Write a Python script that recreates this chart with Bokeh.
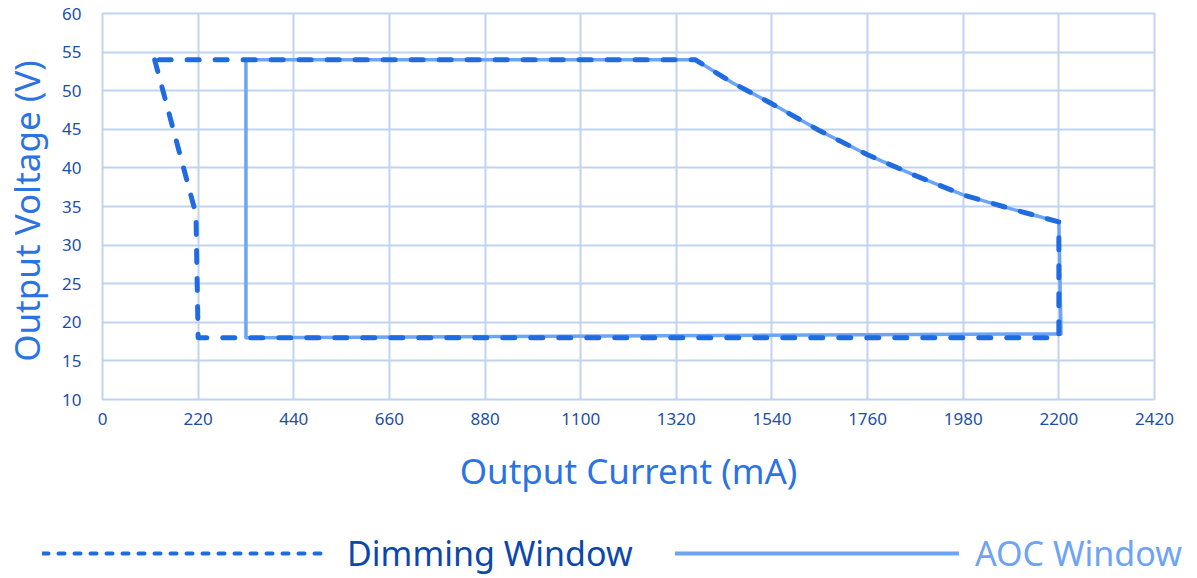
from bokeh.plotting import figure
from bokeh.models import FixedTicker, Legend, LegendItem, Range1d
from bokeh.embed import file_html
from bokeh.resources import INLINE

# ---- data ----
x_ticks = [0, 220, 440, 660, 880, 1100, 1320, 1540, 1760, 1980, 2200, 2420]
y_ticks = [10, 15, 20, 25, 30, 35, 40, 45, 50, 55, 60]

dimming_current = [120, 215, 220, 2200, 2200, 2090, 1980, 1870, 1760, 1650, 1540, 1450, 1364, 120]
dimming_voltage = [54, 34, 18, 18, 33, 34.7, 36.5, 39.0, 41.7, 44.8, 48.3, 51.0, 54, 54]

aoc_current = [330, 330, 2205, 2200, 2090, 1980, 1870, 1760, 1650, 1540, 1450, 1364, 330]
aoc_voltage = [54, 18, 18.5, 33, 34.7, 36.5, 39.0, 41.7, 44.8, 48.3, 51.0, 54, 54]

series_names = ["Dimming Window", "AOC Window"]
x_title = "Output Current (mA)"
y_title = "Output  Voltage (V)"

# ---- style ----
DIM_COLOR = "#1F6BDF"
AOC_COLOR = "#6CA4F6"
DIM_TEXT = "#0C48AC"
AOC_TEXT = "#6DA4F5"
TICK_COLOR = "#1C4FA8"
TITLE_COLOR = "#2B73E2"
GRID_COLOR = "#C0D3EF"
FONT = "Noto Sans"
W = 1195

p = figure(width=W, height=500, output_backend="svg", toolbar_location=None,
           x_range=Range1d(x_ticks[0], x_ticks[-1]), y_range=Range1d(y_ticks[0], y_ticks[-1]),
           min_border_left=102, min_border_right=41, min_border_top=13, min_border_bottom=101)
p.background_fill_color = "white"
p.border_fill_color = "white"
p.outline_line_color = GRID_COLOR
p.outline_line_width = 2

for ax, ticks in ((p.xaxis, x_ticks), (p.yaxis, y_ticks)):
    ax.ticker = FixedTicker(ticks=ticks)
    ax.axis_line_color = None
    ax.major_tick_line_color = None
    ax.minor_tick_line_color = None
    ax.major_tick_out = 0
    ax.major_tick_in = 0
    ax.major_label_text_font = FONT
    ax.major_label_text_font_size = "17px"
    ax.major_label_text_color = TICK_COLOR
    ax.axis_label_text_font = FONT
    ax.axis_label_text_font_style = "normal"
    ax.axis_label_text_color = TITLE_COLOR
    ax.axis_label_text_font_size = "35px"

p.xaxis.axis_label = x_title
p.yaxis.axis_label = y_title
p.xaxis.major_label_standoff = 13
p.xaxis.axis_label_standoff = 19
p.yaxis.major_label_standoff = 21
p.yaxis.axis_label_standoff = 9

p.xgrid.ticker = FixedTicker(ticks=x_ticks)
p.ygrid.ticker = FixedTicker(ticks=y_ticks)
p.grid.grid_line_color = GRID_COLOR
p.grid.grid_line_width = 2

# solid AOC window first, dashed dimming window on top
p.line(aoc_current, aoc_voltage, line_color=AOC_COLOR, line_width=3.5, line_join="round")
p.line(dimming_current, dimming_voltage, line_color=DIM_COLOR, line_width=5,
       line_dash="12 16", line_cap="round", line_join="round")

# ---- legend strip (a separate root below the chart) ----
LH = 76
lf = figure(width=W, height=LH, output_backend="svg", toolbar_location=None,
            x_range=Range1d(0, W), y_range=Range1d(0, LH),
            x_axis_location=None, y_axis_location=None,
            min_border_left=0, min_border_right=0, min_border_top=0, min_border_bottom=0)
lf.grid.visible = False
lf.outline_line_color = None
lf.background_fill_color = "white"
lf.border_fill_color = "white"

# legend sample renderers: their points lie outside the visible range, so only the legend shows them
leg_dim = lf.line([-20, -10], [-20, -20], line_color=DIM_COLOR, line_width=4,
                  line_dash="6 10", line_cap="round")
leg_aoc = lf.line([-20, -10], [-20, -20], line_color=AOC_COLOR, line_width=4, line_cap="round")

def make_legend(name, renderer, color, loc, gw, standoff):
    return Legend(items=[LegendItem(label=name, renderers=[renderer])], location=loc,
                  orientation="horizontal", glyph_width=gw, glyph_height=20,
                  label_standoff=standoff, padding=0, margin=0, spacing=0,
                  border_line_color=None, background_fill_alpha=0,
                  label_text_font=FONT, label_text_font_size="34px",
                  label_text_color=color)

lf.add_layout(make_legend(series_names[0], leg_dim, DIM_TEXT, (42, 0), 288, 17), "center")
lf.add_layout(make_legend(series_names[1], leg_aoc, AOC_TEXT, (675, 0), 284, 16), "center")

open("out.html", "w").write(file_html([p, lf], INLINE))
